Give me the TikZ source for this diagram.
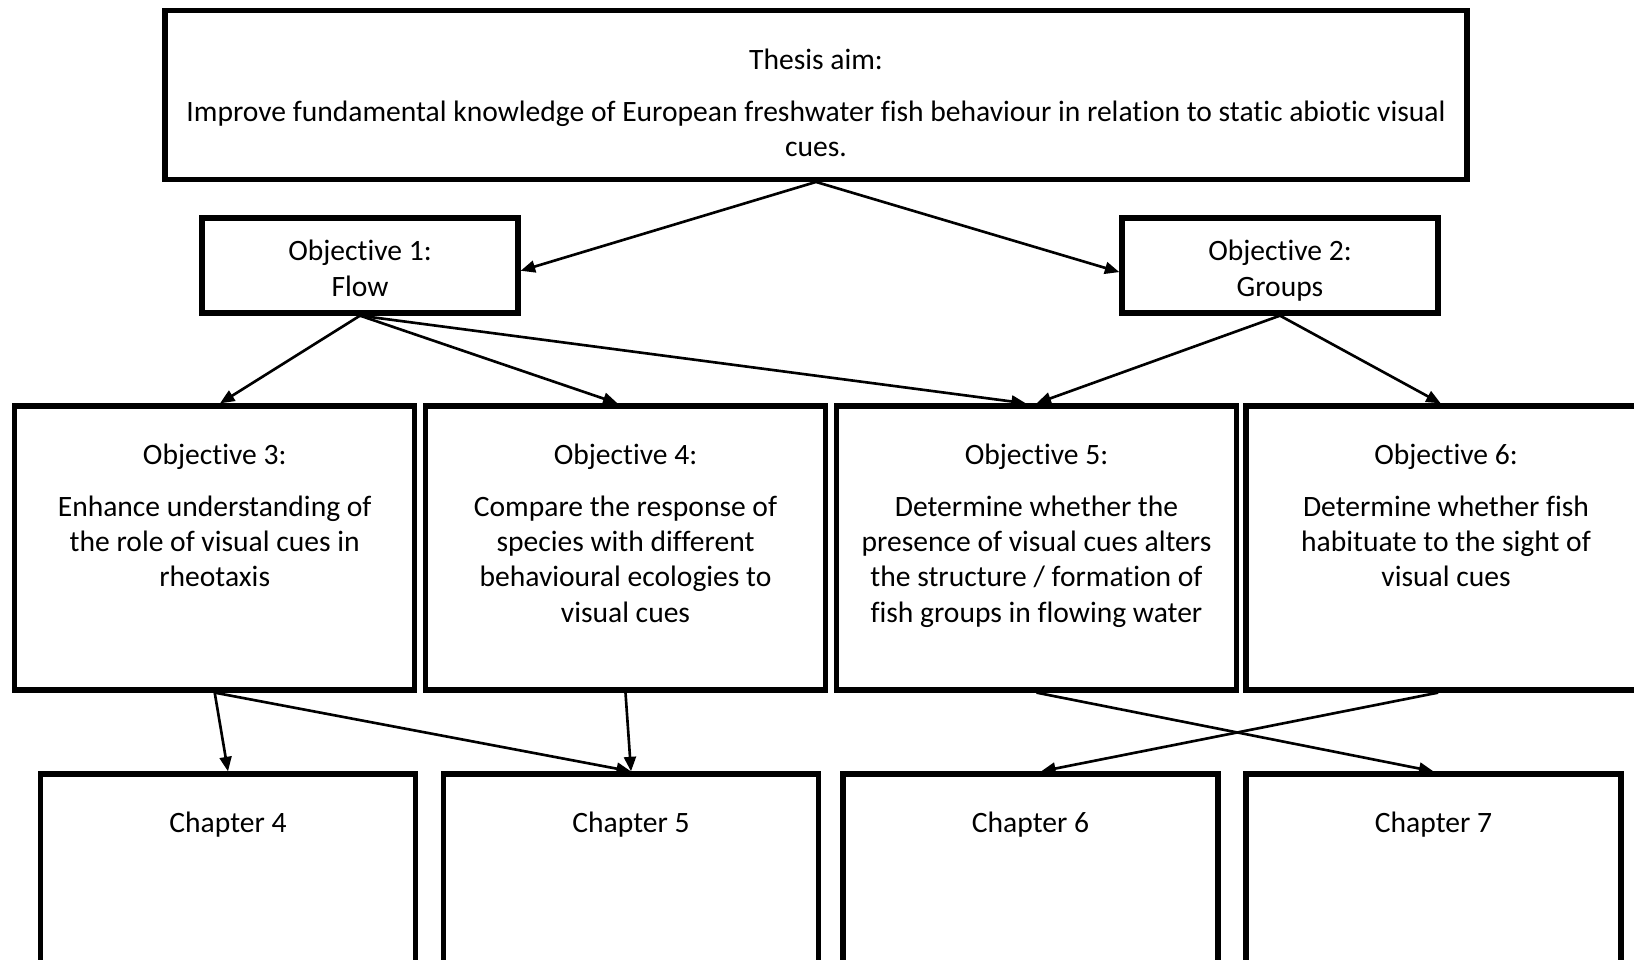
\documentclass[tikz,border=0pt]{standalone}
\usepackage{fontspec}
\setmainfont[Ligatures={NoCommon}]{Carlito}
\usetikzlibrary{arrows.meta}
\usetikzlibrary{positioning}
\def\px{0.3788pt}
\tikzset{
  aimbox/.style={draw,line width=2pt,minimum width=1302*\px,minimum height=169*\px,inner sep=0pt},
  goalbox/.style={draw,line width=2pt,minimum width=316*\px,minimum height=95*\px,inner sep=0pt},
  objbox/.style={draw,line width=2pt,minimum width=400*\px,minimum height=284*\px,inner sep=0pt},
  chapbox/.style={draw,line width=2pt,minimum width=375*\px,minimum height=284*\px,inner sep=0pt},
  txt/.style={align=center,inner sep=0pt}
}

\begin{document}
\begin{tikzpicture}[x=\px,y=-\px,
% thin lines with filled arrow heads
arr/.style={-{Triangle[length=5.5pt,width=4.5pt]},line width=1pt},
every node/.style={font=\fontsize{11.2pt}{13.4pt}\selectfont}]

\useasboundingbox (0,0) rectangle (1634,960);
\fill[white] (0,0) rectangle (1634,960);

\node[aimbox] (aim) at (816,94.8) {};
\node[txt,below=15.3pt of aim.north] (aimtxt) {Thesis aim:\\[6.3pt]Improve fundamental knowledge of European freshwater fish behaviour in relation to static abiotic visual\\cues.};

\node[goalbox] (o1) at (360,265.5) {};
\node[txt] (t1) at ([yshift=-2.3pt]o1.center) {\strut Objective 1:\\\strut Flow};
\node[goalbox] (o2) at (1280,265.5) {};
\node[txt] (t2) at ([yshift=-2.3pt]o2.center) {\strut Objective 2:\\\strut Groups};

\node[objbox] (o3) at (214.7,548) {};
\node[txt,below=15.3pt of o3.north] (t3) {Objective 3:\\[6pt]Enhance understanding of\\the role of visual cues in\\rheotaxis};
\node[objbox] (o4) at (625.5,548) {};
\node[txt,below=15.3pt of o4.north] (t4) {Objective 4:\\[6pt]Compare the response of\\species with different\\behavioural ecologies to\\visual cues};
\node[objbox] (o5) at (1036.5,548) {};
\node[txt,below=15.3pt of o5.north] (t5) {Objective 5:\\[6pt]Determine whether the\\presence of visual cues alters\\the structure / formation of\\fish groups in flowing water};
\node[objbox] (o6) at (1446,548) {};
\node[txt,below=15.3pt of o6.north] (t6) {Objective 6:\\[6pt]Determine whether fish\\habituate to the sight of\\visual cues};

\foreach \n/\x in {4/228,5/631,6/1030.5,7/1433.5} {
  \node[chapbox] (c\n) at (\x,916) {};
  \node[txt,below=15.3pt of c\n.north] (ct\n) {Chapter \n};
}

\draw[arr] (aim.south) -- ([yshift=-2pt]o1.east);
\draw[arr] (aim.south) -- ([yshift=-2.5pt]o2.west);
\draw[arr] (o1.south) -- ([xshift=2pt]o3.north);
\draw[arr] (o1.south) -- ([xshift=-3pt]o4.north);
\draw[arr] (o1.south) -- ([xshift=-4pt]o5.north);
\draw[arr] (o2.south) -- (o5.north);
\draw[arr] (o2.south) -- ([xshift=-2pt]o6.north);
\foreach \a/\b in {o3/c4,o3/c5,o4/c5,o5/c7} {
  \draw[arr] (\a.south) -- (\b.north);
}
\draw[arr] ([xshift=-3pt]o6.south) -- ([xshift=4pt]c6.north);
\end{tikzpicture}
\end{document}
